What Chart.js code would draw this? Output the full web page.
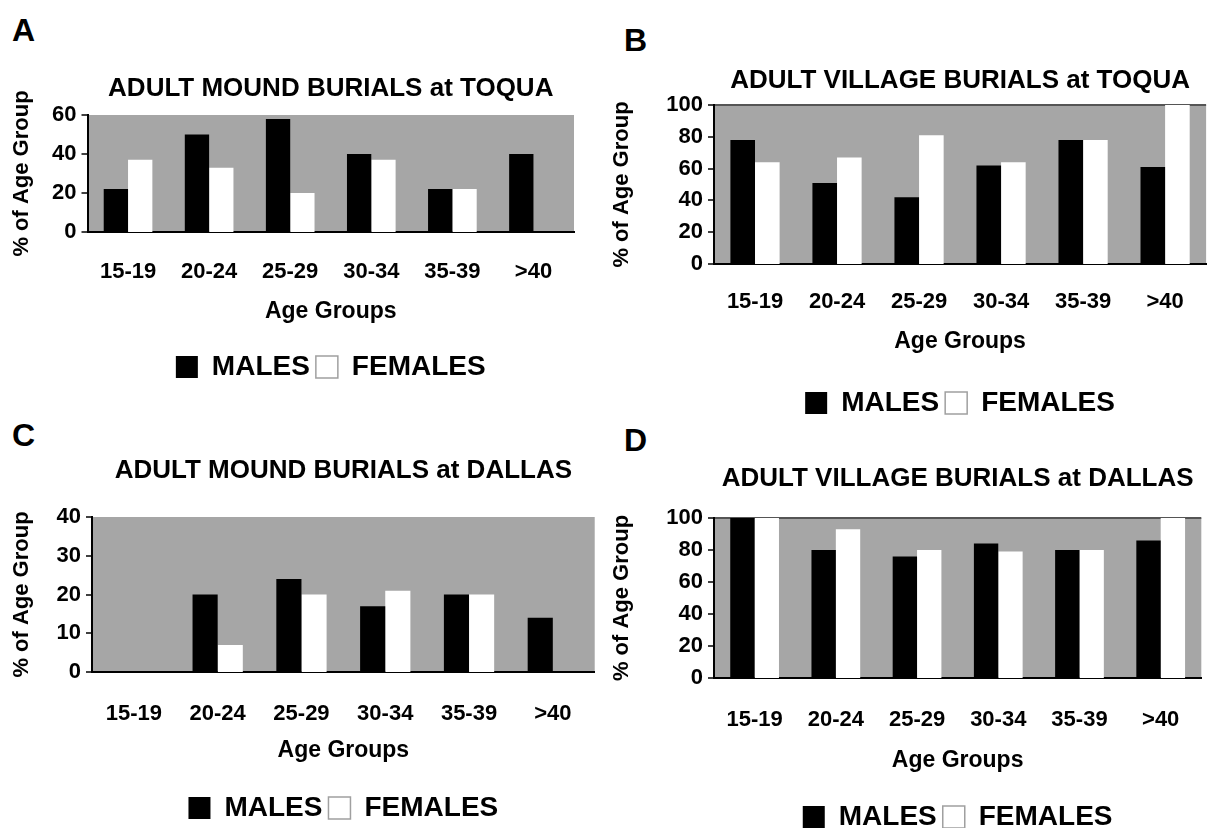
<!DOCTYPE html>
<html><head><meta charset="utf-8">
<script src="https://cdn.jsdelivr.net/npm/chart.js@4.4.0/dist/chart.umd.min.js"></script>
<style>
html,body{margin:0;padding:0;background:#fff;overflow:hidden;width:1209px;height:828px;position:relative;}
canvas{position:absolute;}
.letter{position:absolute;font:bold 32px 'Liberation Sans',Arial,sans-serif;color:#000;line-height:32px;}
</style></head><body>
<div class="letter" style="left:12px;top:14px">A</div>
<div class="letter" style="left:624px;top:24px">B</div>
<div class="letter" style="left:12px;top:419px">C</div>
<div class="letter" style="left:624px;top:424px">D</div>
<canvas id="cA" width="600" height="331" style="left:0px;top:60px"></canvas>
<canvas id="cB" width="609" height="372" style="left:600px;top:55px"></canvas>
<canvas id="cC" width="601" height="387" style="left:0px;top:445px"></canvas>
<canvas id="cD" width="609" height="388" style="left:600px;top:453px"></canvas>
<script>
// ---- data ----
const ageGroups = ['15-19','20-24','25-29','30-34','35-39','>40'];
const seriesNames = ['MALES','FEMALES'];
const moundToquaMales = [22,50,58,40,22,40];
const moundToquaFemales = [37,33,20,37,22,0];
const villageToquaMales = [78,51,42,62,78,61];
const villageToquaFemales = [64,67,81,64,78,100];
const moundDallasMales = [0,20,24,17,20,14];
const moundDallasFemales = [0,7,20,21,20,0];
const villageDallasMales = [100,80,76,84,80,86];
const villageDallasFemales = [100,93,80,79,80,100];
const yMaxA = 60, yStepA = 20;
const yMaxB = 100, yStepB = 20;
const yMaxC = 40, yStepC = 10;
const yMaxD = 100, yStepD = 20;
const titles = ['ADULT MOUND BURIALS at TOQUA','ADULT VILLAGE BURIALS at TOQUA','ADULT MOUND BURIALS at DALLAS','ADULT VILLAGE BURIALS at DALLAS'];
const xTitle = 'Age Groups';
const yTitle = '% of Age Group';

Chart.defaults.font.family = "'Liberation Sans', Arial, sans-serif";
Chart.defaults.color = '#000';

const plotBg = {
  id: 'plotBg',
  beforeDraw(chart, args, opts) {
    const {ctx, chartArea: a} = chart;
    ctx.save();
    ctx.fillStyle = opts.color || '#a6a6a6';
    ctx.fillRect(a.left, a.top, a.right - a.left, a.bottom - a.top);
    ctx.restore();
  }
};

function makeChart(id, title, males, females, yMax, yStep, g) {
  const topLine = g.topLine;
  return new Chart(document.getElementById(id), {
    type: 'bar',
    data: {
      labels: ageGroups,
      datasets: [
        {label: seriesNames[0], data: males, backgroundColor: '#000', borderWidth: 0,
         categoryPercentage: 0.6, barPercentage: 1.0},
        {label: seriesNames[1], data: females, backgroundColor: '#fff', borderWidth: 0,
         categoryPercentage: 0.6, barPercentage: 1.0}
      ]
    },
    plugins: [plotBg],
    options: {
      responsive: false,
      animation: false,
      layout: {padding: {left: g.padL, right: g.padR, top: 0, bottom: g.padB}},
      plugins: {
        plotBg: {color: '#a6a6a6'},
        tooltip: {enabled: false},
        title: {display: true, fullSize: false, text: title, font: {size: 26, weight: 'bold'},
                padding: {top: g.tPadTop, bottom: g.tPadBot}, color: '#000'},
        legend: {
          position: 'bottom',
          fullSize: false,
          labels: {
            boxWidth: 22, boxHeight: 22, padding: 6,
            font: {size: 28, weight: 'bold'}, color: '#000',
            generateLabels(chart) {
              const items = Chart.defaults.plugins.legend.labels.generateLabels(chart);
              items.forEach((it, i) => {
                it.lineWidth = i === 1 ? 1.5 : 0;
                it.strokeStyle = i === 1 ? '#a0a0a0' : '#000';
              });
              return items;
            }
          }
        }
      },
      scales: {
        x: {
          grid: {display: false, drawTicks: false},
          border: {display: true, color: '#000', width: 2},
          ticks: {font: {size: 22, weight: 'bold'}, padding: g.xTickPad, maxRotation: 0, autoSkip: false},
          title: {display: true, text: xTitle, font: {size: 23, weight: 'bold'}, padding: {top: 0, bottom: g.xTitlePad}},
          afterFit(s) { s.height = g.xH; }
        },
        y: {
          min: 0, max: yMax,
          ticks: {stepSize: yStep, font: {size: 22, weight: 'bold'}, padding: 5},
          grid: {
            drawOnChartArea: true, drawTicks: true, tickLength: 6, tickColor: '#000', tickWidth: 1.5,
            color: c => (topLine && c.tick && c.tick.value === yMax) ? '#555' : 'rgba(0,0,0,0)',
            lineWidth: c => (topLine && c.tick && c.tick.value === yMax) ? 2 : 0
          },
          border: {display: true, color: '#000', width: 2},
          title: {display: true, text: yTitle, font: {size: 22, weight: 'bold'}, padding: {top: 0, bottom: 0}},
          afterFit(s) { s.width = g.yW; }
        }
      }
    }
  });
}

makeChart('cA', titles[0], moundToquaMales, moundToquaFemales, yMaxA, yStepA,
  {padL: 8.8, padR: 26, padB: 0, tPadTop: 13.4, tPadBot: 10.4, yW: 78.7, xH: 115, xTickPad: 27, xTitlePad: 21.2, topLine: false});
makeChart('cB', titles[1], villageToquaMales, villageToquaFemales, yMaxB, yStepB,
  {padL: 8.8, padR: 0, padB: 0, tPadTop: 10.4, tPadBot: 8.4, yW: 105.2, xH: 119, xTickPad: 25, xTitlePad: 27.2, topLine: true});
makeChart('cC', titles[2], moundDallasMales, moundDallasFemales, yMaxC, yStepC,
  {padL: 8.8, padR: 0, padB: 0, tPadTop: 10.4, tPadBot: 30.4, yW: 83.2, xH: 116, xTickPad: 29, xTitlePad: 23.2, topLine: false});
makeChart('cD', titles[3], villageDallasMales, villageDallasFemales, yMaxD, yStepD,
  {padL: 8.8, padR: 0, padB: 0, tPadTop: 10.4, tPadBot: 23.4, yW: 105.2, xH: 119, xTickPad: 29, xTitlePad: 22.2, topLine: true});
</script>
</body></html>
